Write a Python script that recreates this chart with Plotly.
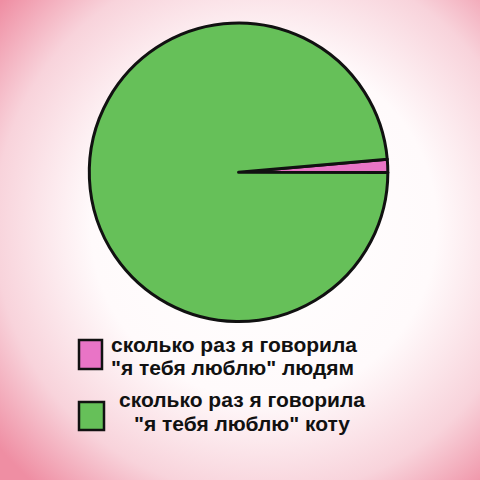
"""Pie chart: how many times I said 'I love you' to people vs to the cat."""

import base64
import plotly.graph_objects as go

# data
legend_lines = [
    ["сколько раз я говорила", '"я тебя люблю" людям'],
    ["сколько раз я говорила", '"я тебя люблю" коту'],
]
labels = [" ".join(l) for l in legend_lines]
values = [1.4, 98.6]
colors = ["#E974C6", "#66C059"]

# soft pink radial background, like the original picture
bg_svg = """<svg xmlns='http://www.w3.org/2000/svg' width='480' height='480'>
<defs><radialGradient id='g' cx='55%' cy='47%' r='72%'>
<stop offset='0' stop-color='#ffffff'/>
<stop offset='0.5' stop-color='#fffafb'/>
<stop offset='0.78' stop-color='#f8d3db'/>
<stop offset='1' stop-color='#ef8ea3'/>
</radialGradient></defs>
<rect width='480' height='480' fill='url(#g)'/></svg>"""
bg_uri = "data:image/svg+xml;base64," + base64.b64encode(bg_svg.encode()).decode()

fig = go.Figure(go.Pie(
    labels=labels,
    values=values,
    sort=False,
    direction="clockwise",
    rotation=85,
    textinfo="none",
    hoverinfo="skip",
    marker=dict(colors=colors, line=dict(color="#111111", width=3)),
    domain=dict(x=[0.186, 0.808], y=[0.33, 0.952]),
    showlegend=False,
))

# hand made legend: boxes + two-line labels
boxes = [(79, 340, 102, 369), (79, 402, 104, 430)]
for (x0, y0, x1, y1), c in zip(boxes, colors):
    fig.add_shape(type="rect", xref="paper", yref="paper",
                  x0=x0 / 480, x1=x1 / 480, y0=1 - y0 / 480, y1=1 - y1 / 480,
                  fillcolor=c, line=dict(color="#111111", width=2.5))

line_y = [[344, 367.5], [399.5, 423]]
for i, lines in enumerate(legend_lines):
    for j, txt in enumerate(lines):
        if i == 0:
            x, anchor = 110, "left"
        else:
            x, anchor = 242, "center"
        fig.add_annotation(text=txt, xref="paper", yref="paper",
                           x=x / 480, y=1 - line_y[i][j] / 480,
                           xanchor=anchor, yanchor="middle", showarrow=False,
                           borderpad=0,
                           font=dict(family="Liberation Sans, Arial", size=21,
                                     color="#111111", weight="bold"))

fig.update_layout(
    width=480, height=480,
    margin=dict(l=0, r=0, t=0, b=0),
    paper_bgcolor="#ffffff",
    images=[dict(source=bg_uri, xref="paper", yref="paper", x=0, y=1,
                 sizex=1, sizey=1, sizing="stretch", layer="below")],
)

# page has a default 8px body margin; drop it so the chart fills the window
fig.write_html("out.html", config={"displayModeBar": False},
               post_script="document.body.style.margin='0';")
